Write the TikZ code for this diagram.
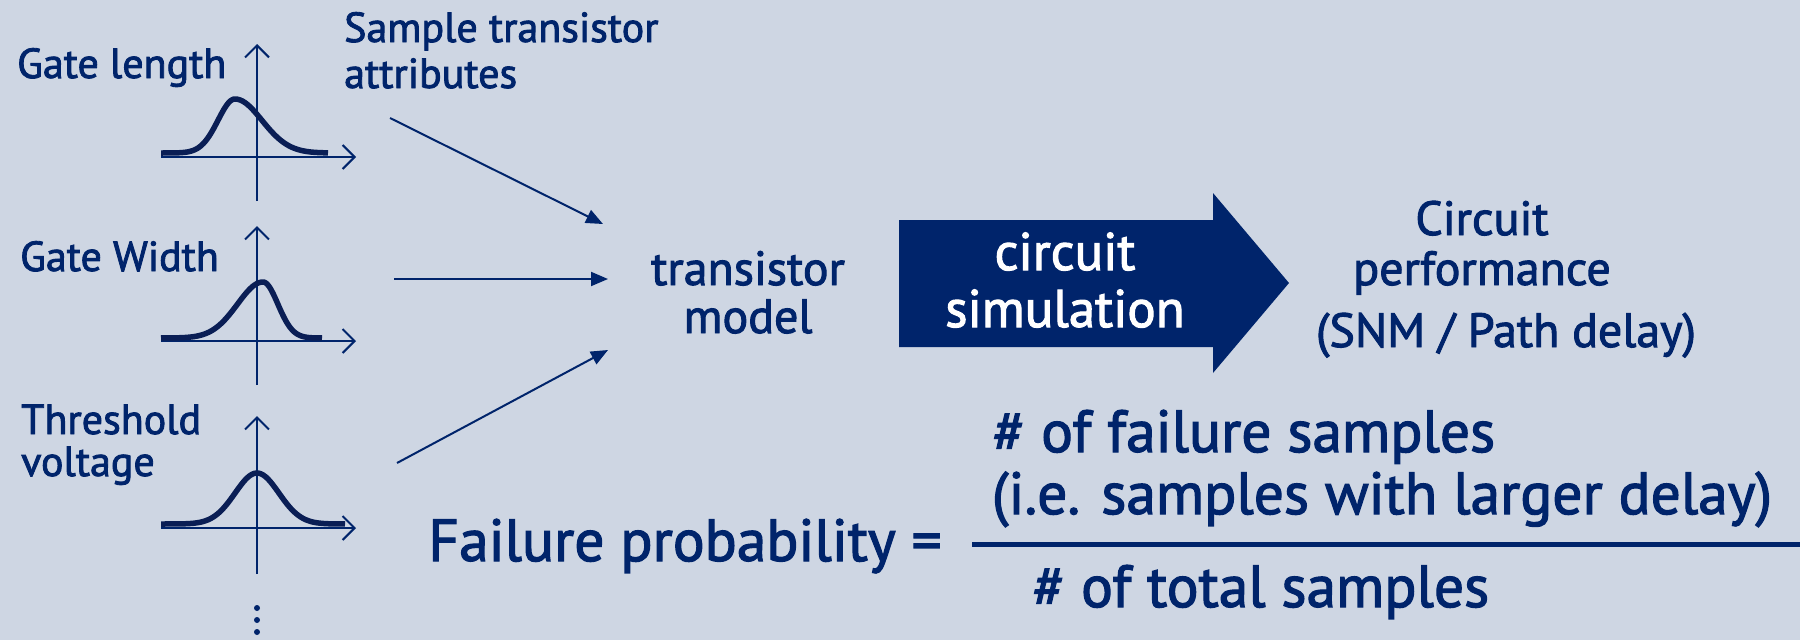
\documentclass[tikz,border=0pt]{standalone}
\usepackage{fontspec}
\setmainfont{PT Sans}[FakeBold=2]
\usetikzlibrary{arrows.meta}
\definecolor{navy}{RGB}{0,36,107}
\definecolor{darknavy}{RGB}{10,30,85}
\definecolor{bg}{RGB}{206,214,227}
\begin{document}
\begin{tikzpicture}[x=1pt,y=-1pt,
  lbl/.style={text=navy, inner sep=0pt, font=\fontsize{42}{48}\selectfont},
  mid/.style={text=navy, inner sep=0pt, font=\fontsize{48}{54}\selectfont},
  big/.style={text=navy, inner sep=0pt, font=\fontsize{59.5}{66}\selectfont},
  simtext/.style={text=white, inner sep=0pt, font=\fontsize{53}{60}\selectfont},
  axisline/.style={draw=navy, line width=2pt, -{Straight Barb[length=12pt,width=24pt]}},
  curve/.style={draw=darknavy, line width=5.5pt},
  feed/.style={draw=navy, line width=2pt, -{Triangle[length=17pt,width=14pt]}},
]
\fill[bg] (0,0) rectangle (1800,640);
\useasboundingbox (0,0) rectangle (1800,640);

% --- input distributions ---------------------------------------------
% gate length (skewed to the left)
\draw[axisline] (257,201) -- (257,44);
\draw[axisline] (161,157) -- (356,157);
\draw[curve] plot[domain=161:235,samples=50] (\x,{153-54*exp(-((\x-235)/24)*((\x-235)/24))})
  -- plot[domain=235:328,samples=50] (\x,{153-54*exp(-((\x-235)/38)*((\x-235)/38))});
\node[lbl, anchor=base west] (gl) at (17,78) {Gate length};

% gate width (skewed to the right)
\draw[axisline] (257,385) -- (257,226);
\draw[axisline] (161,341) -- (356,341);
\draw[curve] plot[domain=161:263,samples=50] (\x,{338-56*exp(-((\x-263)/36)*((\x-263)/36))})
  -- plot[domain=263:322,samples=50] (\x,{338-56*exp(-((\x-263)/21)*((\x-263)/21))});
\node[lbl, anchor=base west] (gw) at (20,271) {Gate Width};

% threshold voltage (symmetric)
\draw[axisline] (257,574) -- (257,416);
\draw[axisline] (161,528) -- (356,528);
\draw[curve] plot[domain=161:345,samples=80] (\x,{524-51*exp(-((\x-257)/31)*((\x-257)/31))});
\node[lbl, anchor=base west] (tv1) at (21,434) {Threshold};
\node[lbl, anchor=base west] (tv2) at (21,476) {voltage};

% more parameters
\foreach \yy in {608,620,632} \fill[navy] (257,\yy) circle (3pt);

\node[lbl, anchor=base west] (st1) at (344,42) {Sample transistor};
\node[lbl, anchor=base west] (st2) at (344,88) {attributes};

% --- transistor model --------------------------------------------------
\node[mid, anchor=base] (tm1) at (748,285) {transistor};
\node[mid, anchor=base] (tm2) at (748,333) {model};

\coordinate (s1) at (390,118);  \coordinate (e1) at (603,224);
\coordinate (s2) at (394,279);  \coordinate (e2) at (608,279);
\coordinate (s3) at (397,463);  \coordinate (e3) at (608,350);
\draw[feed] (s1) -- (e1);
\draw[feed] (s2) -- (e2);
\draw[feed] (s3) -- (e3);

% --- circuit simulation block arrow ------------------------------------
\fill[navy] (899,220) -- (1213,220) -- (1213,193) -- (1289,283)
  -- (1213,373) -- (1213,347) -- (899,347) -- cycle;
\node[simtext, anchor=base] (cs1) at (1065,270) {circuit};
\node[simtext, anchor=base] (cs2) at (1065,327) {simulation};

% --- circuit performance -----------------------------------------------
\node[mid, anchor=base] (cp1) at (1482,235) {Circuit};
\node[mid, anchor=base] (cp2) at (1482,285) {performance};
\node[mid, anchor=base] (cp3) at (1506,347) {(SNM / Path delay)};

% --- failure probability -----------------------------------------------
\node[big, anchor=base] (fp) at (685,561) {Failure probability =};
\draw[navy, line width=5pt] (972,544) -- (1800,544);
\node[big, anchor=base] (num1) at (1244,452) {\# of failure samples};
\node[big, anchor=base] (num2) at (1382,514) {(i.e. samples with larger delay)};
\node[big, anchor=base] (den) at (1261,607) {\# of total samples};
\end{tikzpicture}
\end{document}
